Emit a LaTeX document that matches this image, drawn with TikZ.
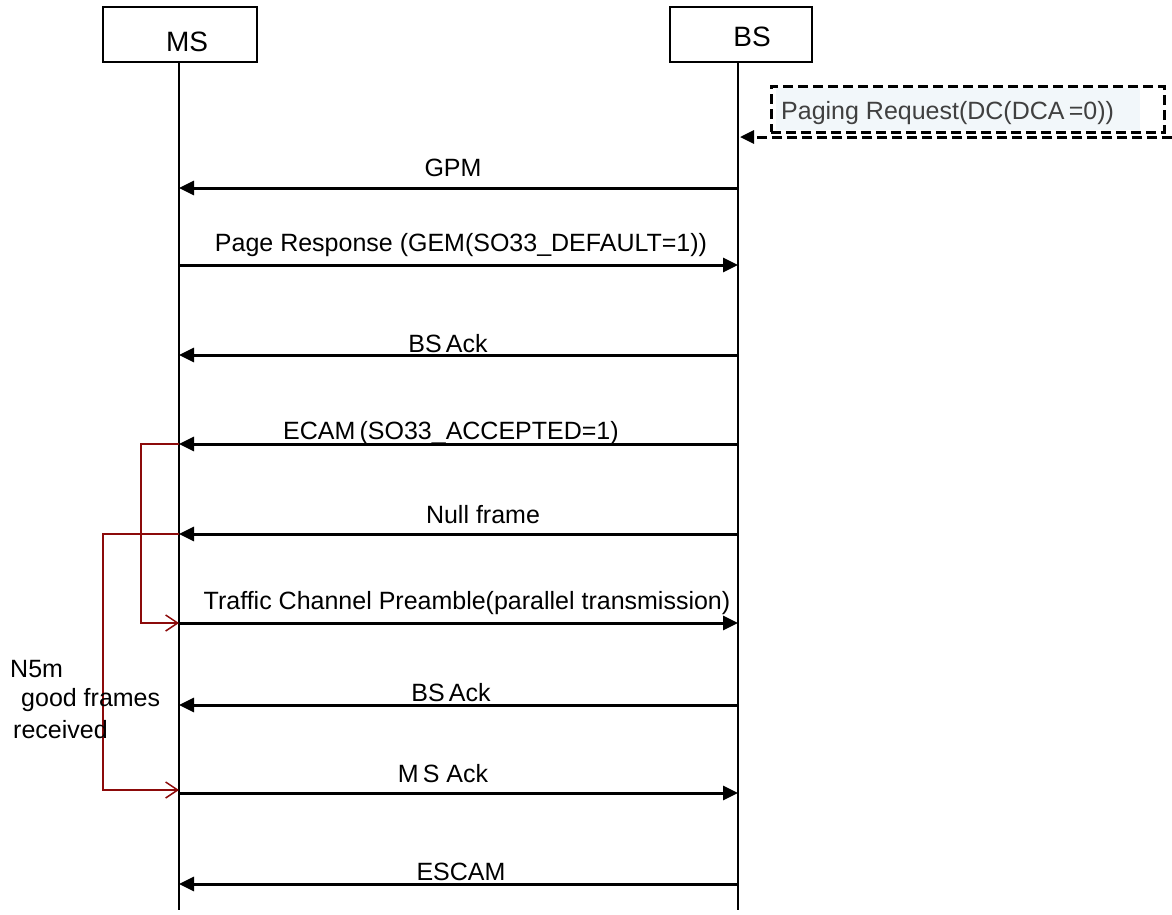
\documentclass[tikz,border=0pt]{standalone}
\usepackage{fontspec}
\setmainfont{Liberation Sans}
\usetikzlibrary{arrows.meta}
\definecolor{brk}{RGB}{140,10,10}
\definecolor{pfill}{RGB}{242,247,250}
\definecolor{ptext}{RGB}{64,64,64}
\begin{document}
\begin{tikzpicture}[x=1pt,y=-1pt,
  lbl/.style={font=\fontsize{25pt}{30pt}\selectfont, inner sep=0pt},
  actor/.style={draw, line width=2.5pt, minimum height=55pt, inner sep=0pt},
  life/.style={line width=2.5pt},
  msg/.style={line width=3pt, -{Triangle[length=15pt,width=14pt]}},
  dmsg/.style={line width=3pt, dash pattern=on 10pt off 5pt, -{Triangle[length=14pt,width=13pt]}},
  brack/.style={draw=brk, line width=2pt, -{Straight Barb[length=12pt,width=16pt,line width=1.5pt]}}
]
\useasboundingbox (0,0) rectangle (1172,914);
% actors
\node[actor, minimum width=154pt] (ms) at (180,34.5) {};
\node[lbl, font=\fontsize{28pt}{32pt}\selectfont] (mst) at (187,42) {MS};
\node[actor, minimum width=142pt] (bs) at (741,34.5) {};
\node[lbl, font=\fontsize{28pt}{32pt}\selectfont] (bst) at (752,37) {BS};
% lifelines
\coordinate (msend) at (179,910);
\coordinate (bsend) at (738,910);
\draw[life] (179,62) -- (msend);
\draw[life] (738,62) -- (bsend);
% message points
\foreach \n/\y in {1/188,2/265,3/355,4/444,5/534,6/623,7/705,8/793,9/884}{
  \coordinate (a\n) at (179,\y);
  \coordinate (b\n) at (738,\y);
}
% paging request
\fill[pfill] (776,88) rectangle (1140,130);
\node[draw, line width=3pt, dash pattern=on 10pt off 5pt, minimum width=393pt, minimum height=46pt, inner sep=0pt] (pbox) at (967.5,109) {};
\node[lbl, text=ptext, anchor=west] (ptxt) at (781,113) {Paging Request(DC(DCA\,=0))};
\coordinate (pstart) at (1172,137);
\coordinate (pend) at (740,137);
\draw[dmsg] (pstart) -- (pend);
% messages
\draw[msg] (b1) -- (a1);
\node[lbl] (l1) at (453,168) {GPM};
\draw[msg] (a2) -- (b2);
\node[lbl] (l2) at (461,245) {Page Response (GEM(SO33\_DEFAULT=1))};
\draw[msg] (b3) -- (a3);
\node[lbl] (l3) at (448,344) {BS\,Ack};
\draw[msg] (b4) -- (a4);
\node[lbl] (l4) at (451,433) {ECAM\,(SO33\_ACCEPTED=1)};
\draw[msg] (b5) -- (a5);
\node[lbl] (l5) at (483,515) {Null frame};
\draw[msg] (a6) -- (b6);
\node[lbl] (l6) at (467,603) {Traffic Channel Preamble(parallel transmission)};
\draw[msg] (b7) -- (a7);
\node[lbl] (l7) at (451,693) {BS\,Ack};
\draw[msg] (a8) -- (b8);
\node[lbl] (l8) at (443,774) {M\,S Ack};
\draw[msg] (b9) -- (a9);
\node[lbl] (l9) at (461,872) {ESCAM};
% brackets
\draw[brack] (a4) -- (141,444) -- (141,623) -- (a6);
\draw[brack] (a5) -- (103,534) -- (103,790) -- (179,790);
% note
\node[lbl, anchor=west] (n1) at (10,669) {N5m};
\node[lbl, anchor=west] (n2) at (21,700) {good frames};
\node[lbl, anchor=west] (n3) at (13,730) {received};
\end{tikzpicture}
\end{document}
